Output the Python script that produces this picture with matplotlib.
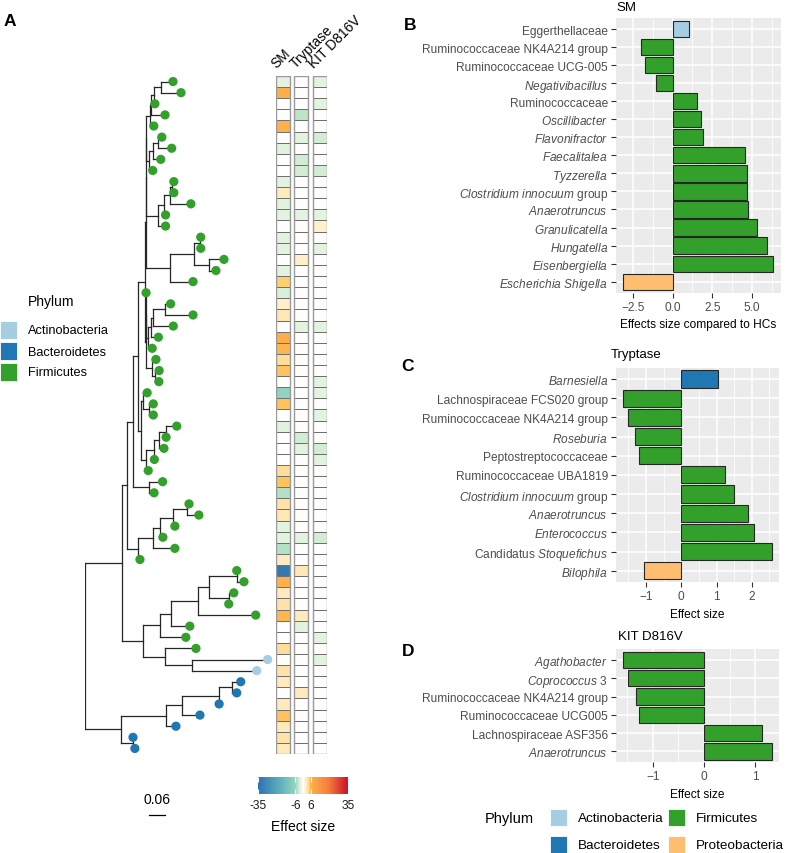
import numpy as np
import matplotlib
matplotlib.use("Agg")
import matplotlib.pyplot as plt
from matplotlib.colors import LinearSegmentedColormap, Normalize
from matplotlib.collections import LineCollection
from matplotlib.patches import Rectangle
from matplotlib.cm import ScalarMappable

plt.rcParams["font.family"] = ["Liberation Sans", "DejaVu Sans"]
plt.rcParams["mathtext.fontset"] = "custom"
plt.rcParams["mathtext.rm"] = "Liberation Sans"
plt.rcParams["mathtext.it"] = "Liberation Sans:italic"

# ---------------- data ----------------
phylum_colors = {"Actinobacteria": "#a6cee3", "Bacteroidetes": "#1f78b4",
                 "Firmicutes": "#33a02c", "Proteobacteria": "#fdbf6f"}

# tree clades: leaf label = heatmap row, number after ":" = distance from root
clade_u1 = "((((0:0.330,1:0.360):0.285,2:0.262):0.260,3:0.300):0.247,4:0.258):0.242"
clade_u2 = "(((5:0.288,6:0.325):0.274,7:0.284):0.256,8:0.254):0.241"
clade_u3 = "((((9:0.333,10:0.333):0.327,11:0.397):0.320,12:0.302):0.298,13:0.302):0.275"
clade_u4 = "(((14:0.434,15:0.434):0.431,(16:0.521,17:0.491):0.464):0.408,18:0.405):0.318"
clade_t2a = "((((20:0.321,21:0.405):0.300,22:0.331):0.254,23:0.275):0.247,24:0.252):0.237"
clade_t2b = "(25:0.266,(26:0.278,27:0.277):0.262):0.252"
clade_za = "(28:0.233,(29:0.256,30:0.256):0.240):0.218"
clade_g3 = "((((31:0.344,32:0.304):0.304,33:0.296):0.279,34:0.260):0.260,35:0.237):0.227"
clade_y = "(36:0.291,37:0.259):0.241"
clade_r = "(((((38:0.390,39:0.427):0.382,40:0.337):0.330,41:0.292):0.281,42:0.337):0.255,43:0.206):0.199"
clade_c = "(((((44:0.569,45:0.596):0.569,(46:0.558,47:0.539):0.539):0.464,48:0.640):0.423,49:0.393):0.322,50:0.378):0.281"
clade_i = "(51:0.416,(52:0.685,53:0.644):0.401):0.300"
clade_k = "(((((54:0.584,55:0.569):0.553,56:0.503):0.503,57:0.431):0.363,58:0.341):0.303,(59:0.180,60:0.187):0.180):0.1355"

node_t1 = "(((%s,%s):0.230,%s):0.229,%s):0.228" % (clade_u1, clade_u2, clade_u3, clade_u4)
node_t2 = "((19:0.229,%s):0.229,%s):0.228" % (clade_t2a, clade_t2b)
node_x = "((%s,%s):0.226,(%s,%s):0.210):0.200" % (node_t1, node_t2, clade_za, clade_g3)
node_w = "(%s,%s):0.181" % (node_x, clade_y)
node_q = "(%s,%s):0.156" % (node_w, clade_r)
node_a = "(%s,(%s,%s):0.217):0.1375" % (node_q, clade_c, clade_i)
tree_str = "(%s,%s):0" % (node_a, clade_k)

tip_phylum = "F" * 52 + "AA" + "B" * 7
phylum_code = {"F": "Firmicutes", "A": "Actinobacteria", "B": "Bacteroidetes"}

heat_cols = ["SM", "Tryptase", "KIT D816V"]
sm_heat = [-2, 7, 0, 0, 6.5, 0, -2, 0, 0, -2, 2.5, -2, -2, 0, -2, -2, 0, -2, 5, -2.5,
           2, 3, 0, 7, 6, 4, 5.5, 0, -6.5, 5.5, 0, -2, 0, 0, 0, 4, 5.5, -4.5, 3.5, 3,
           -2, -2, -4.5, 2.5, -33, 6.5, 2.5, 3.5, 6, 0, 0, 4, 0, 3.5, 2.5, 0, 2.5, 5.5, 2.5, 3.5,
           2.5]
tryp_heat = [0, 0, 0, -4, 0, -2, 0, -3, -3, 0, 0, 0, -2, 0, 0, 0, 2, 0, 0, 0,
             0, 0, -2, 0, 0, 0, 0, 0, 0, 0, 0, 0, -3, -2, 0, 0, 0, 0, 0, 0,
             0, -2, 0, 0, 3, 0, 0, 0, 2.5, -2, 0, 0, 0, 0, 0, 2.5, 0, 0, 0, 0,
             0]
kit_heat = [-2, 0, -2, 0, 0, -3, 0, 0, -3, 0, 0, 0, -2, 2, 0, -2, 0, 0, 0, 0,
            0, 0, -2, 0, 0, 0, 0, -2, -2, 0, -2, 0, 0, -3, -2, 0, 0, 0, 0, 0,
            0, -3, 0, 0, 0, 0, 0, 0, 0, 0, -2, 0, -2, 0, 0, 0, 0, 0, 0, 0,
            0]

cmap_values = [-35, -20, -6, -4, -2, 0, 2, 4, 5.5, 6, 20, 35]
cmap_colors = ["#2a72b2", "#58a8b8", "#93d4c1", "#bfe5c8", "#e3f3e0", "#ffffff",
               "#fff0cd", "#fedc98", "#fec965", "#fdb24c", "#f57d3a", "#c8102e"]
cbar_ticks = [-35, -6, 6, 35]

sm_taxa = ["Eggerthellaceae", "Ruminococcaceae NK4A214 group", "Ruminococcaceae UCG-005",
           r"$\it{Negativibacillus}$", "Ruminococcaceae", r"$\it{Oscillibacter}$",
           r"$\it{Flavonifractor}$", r"$\it{Faecalitalea}$", r"$\it{Tyzzerella}$",
           r"$\it{Clostridium\ innocuum}$ group", r"$\it{Anaerotruncus}$",
           r"$\it{Granulicatella}$", r"$\it{Hungatella}$", r"$\it{Eisenbergiella}$",
           r"$\it{Escherichia\ Shigella}$"]
sm_effect = [1.05, -2.0, -1.76, -1.07, 1.55, 1.76, 1.92, 4.54, 4.69, 4.69, 4.75, 5.29, 5.96, 6.32, -3.08]
sm_phylum = ["Actinobacteria"] + ["Firmicutes"] * 13 + ["Proteobacteria"]

tryp_taxa = [r"$\it{Barnesiella}$", "Lachnospiraceae FCS020 group", "Ruminococcaceae NK4A214 group",
             r"$\it{Roseburia}$", "Peptostreptococcaceae", "Ruminococcaceae UBA1819",
             r"$\it{Clostridium\ innocuum}$ group", r"$\it{Anaerotruncus}$", r"$\it{Enterococcus}$",
             r"Candidatus $\it{Stoquefichus}$", r"$\it{Bilophila}$"]
tryp_effect = [1.03, -1.64, -1.51, -1.31, -1.19, 1.24, 1.51, 1.88, 2.07, 2.57, -1.07]
tryp_phylum = ["Bacteroidetes"] + ["Firmicutes"] * 9 + ["Proteobacteria"]

kit_taxa = [r"$\it{Agathobacter}$", r"$\it{Coprococcus}$ 3", "Ruminococcaceae NK4A214 group",
            "Ruminococcaceae UCG005", "Lachnospiraceae ASF356", r"$\it{Anaerotruncus}$"]
kit_effect = [-1.57, -1.48, -1.32, -1.27, 1.12, 1.32]
kit_phylum = ["Firmicutes"] * 6

# ---------------- helpers ----------------
W, H = 787, 854
fig = plt.figure(figsize=(W / 100, H / 100), dpi=100)


def px_axes(left, top, width, height):
    return fig.add_axes([left / W, 1 - (top + height) / H, width / W, height / H])


def ftext(x, y, s, **kw):
    fig.text(x / W, 1 - y / H, s, **kw)


def fkey(x, y, w, h, color):
    fig.add_artist(Rectangle((x / W, 1 - (y + h) / H), w / W, h / H,
                             transform=fig.transFigure, facecolor=color,
                             edgecolor="white", linewidth=0.6))


def parse_tree(s):
    pos = 0

    def node():
        nonlocal pos
        children = []
        if s[pos] == "(":
            pos += 1
            while True:
                children.append(node())
                ch = s[pos]
                pos += 1
                if ch == ")":
                    break
        start = pos
        while s[pos] != ":":
            pos += 1
        label = s[start:pos]
        pos += 1
        start = pos
        while pos < len(s) and s[pos] not in ",)":
            pos += 1
        return {"label": label, "depth": float(s[start:pos]), "children": children}

    return node()


def layout(n):
    if not n["children"]:
        n["y"] = int(n["label"])
    else:
        for c in n["children"]:
            layout(c)
        ys = [c["y"] for c in n["children"]]
        n["y"] = (min(ys) + max(ys)) / 2


def collect(n, segs, tips):
    if not n["children"]:
        tips.append((n["depth"], n["y"], int(n["label"])))
        return
    ys = [c["y"] for c in n["children"]]
    segs.append([(n["depth"], min(ys)), (n["depth"], max(ys))])
    for c in n["children"]:
        segs.append([(n["depth"], c["y"]), (c["depth"], c["y"])])
        collect(c, segs, tips)


# ---------------- panel A: tree ----------------
n_rows = len(sm_heat)
px_per_unit = 266.7
ax_tree = px_axes(85, 77, 191, 678)
root = parse_tree(tree_str)
layout(root)
segs, tips = [], []
collect(root, segs, tips)
ax_tree.add_collection(LineCollection(segs, colors="#262626", linewidths=0.9,
                                      capstyle="projecting"))
tx = [t[0] for t in tips]
ty = [t[1] for t in tips]
tc = [phylum_colors[phylum_code[tip_phylum[t[2]]]] for t in tips]
ax_tree.scatter(tx, ty, s=44, c=tc, edgecolors="none", zorder=3, clip_on=False)
ax_tree.set_xlim(0, 191 / px_per_unit)
ax_tree.set_ylim(n_rows - 0.5, -0.5)
ax_tree.axis("off")

# scale bar
row_px = 678 / n_rows
sb_x = (149 - 85) / px_per_unit
sb_y = (816 - 77) / row_px - 0.5
ax_tree.plot([sb_x, sb_x + 0.06], [sb_y, sb_y], color="black", lw=0.9, clip_on=False)
ax_tree.text(sb_x + 0.03, (800 - 77) / row_px - 0.5, "0.06",
             ha="center", va="center", fontsize=10, clip_on=False)

# ---------------- heatmap ----------------
cmap = LinearSegmentedColormap.from_list(
    "effect", [((v + 35) / 70, c) for v, c in zip(cmap_values, cmap_colors)])
norm = Normalize(-35, 35)
ax_heat = px_axes(276, 77, 50.5, 678)
cell_w = 0.73
for j, vals in enumerate([sm_heat, tryp_heat, kit_heat]):
    ax_heat.pcolormesh(np.array([j, j + cell_w]), np.arange(n_rows + 1),
                       np.array(vals).reshape(-1, 1), cmap=cmap, norm=norm,
                       edgecolors="#707070", linewidth=0.6)
    ax_heat.add_patch(Rectangle((j, 0), cell_w, n_rows, fill=False,
                                edgecolor="#9a9a9a", linewidth=1.0))
    ax_heat.text(j + 0.15, -0.5, heat_cols[j], rotation=45, rotation_mode="anchor",
                 ha="left", va="bottom", fontsize=10, clip_on=False)
ax_heat.set_xlim(0, 2 + cell_w)
ax_heat.set_ylim(n_rows, 0)
ax_heat.axis("off")

cax = px_axes(258, 778, 90, 17)
cb = fig.colorbar(ScalarMappable(norm=norm, cmap=cmap), cax=cax, orientation="horizontal")
cb.outline.set_visible(False)
cb.set_ticks(cbar_ticks)
cb.set_ticklabels([str(t) for t in cbar_ticks])
cax.xaxis.set_ticks_position("both")
cax.tick_params(axis="x", which="both", direction="in", color="white", length=3.5,
                width=0.8, labelsize=8.6, pad=3.5, labelcolor="#1a1a1a")
cax.tick_params(axis="x", which="minor", length=0)
ftext(303, 827, "Effect size", ha="center", va="center", fontsize=10)

# left phylum legend
ftext(28, 302, "Phylum", ha="left", va="center", fontsize=10)
for k, name in enumerate(["Actinobacteria", "Bacteroidetes", "Firmicutes"]):
    fkey(0, 322 + k * 21, 17, 18, phylum_colors[name])
    ftext(28, 331.5 + k * 21, name, ha="left", va="center", fontsize=9.2)

ftext(10, 22, "A", ha="center", va="center", fontsize=12.5, fontweight="bold")


# ---------------- bar panels ----------------
def bar_panel(ax, taxa, effect, phyla, major, minor, xlabel):
    n = len(taxa)
    pos = np.arange(n)
    ax.barh(pos, effect, height=0.9, color=[phylum_colors[p] for p in phyla],
            edgecolor="#262626", linewidth=0.8, zorder=3)
    lo, hi = min(min(effect), 0), max(max(effect), 0)
    pad = 0.05 * (hi - lo)
    ax.set_xlim(lo - pad, hi + pad)
    ax.set_ylim(n - 0.4, -0.6)
    ax.set_facecolor("#ebebeb")
    ax.set_yticks(pos)
    ax.set_yticklabels(taxa)
    ax.set_xticks(major)
    ax.set_xticks(minor, minor=True)
    ax.grid(which="major", color="white", lw=1.1)
    ax.grid(which="minor", axis="x", color="white", lw=0.55)
    ax.set_axisbelow(True)
    for s in ax.spines.values():
        s.set_visible(False)
    ax.tick_params(which="major", length=3.3, width=0.8, color="#333333",
                   labelcolor="#4d4d4d", labelsize=8.6, pad=2.5)
    ax.tick_params(which="minor", length=0)
    ax.set_xlabel(xlabel, fontsize=8.6, labelpad=4)


ax_b = px_axes(616, 19.2, 164.7, 274.3)
bar_panel(ax_b, sm_taxa, sm_effect, sm_phylum, [-2.5, 0, 2.5, 5.0],
          [-1.25, 1.25, 3.75, 6.25], "Effects size compared to HCs")
ftext(616, 8, "SM", ha="left", va="center", fontsize=9.5)
ftext(410, 25, "B", ha="center", va="center", fontsize=12.5, fontweight="bold")

ax_c = px_axes(616, 368.5, 163.3, 214.7)
bar_panel(ax_c, tryp_taxa, tryp_effect, tryp_phylum, [-1, 0, 1, 2],
          [-1.5, -0.5, 0.5, 1.5, 2.5], "Effect size")
ftext(611, 355, "Tryptase", ha="left", va="center", fontsize=9.5)
ftext(408, 367, "C", ha="center", va="center", fontsize=12.5, fontweight="bold")

ax_d = px_axes(616, 650, 163.3, 113.3)
bar_panel(ax_d, kit_taxa, kit_effect, kit_phylum, [-1, 0, 1],
          [-1.5, -0.5, 0.5], "Effect size")
ftext(618, 637, "KIT D816V", ha="left", va="center", fontsize=9.5)
ftext(408, 652, "D", ha="center", va="center", fontsize=12.5, fontweight="bold")

# bottom phylum legend
ftext(485, 819, "Phylum", ha="left", va="center", fontsize=10.5)
legend_items = [("Actinobacteria", 550, 810), ("Firmicutes", 668, 810),
                ("Bacteroidetes", 550, 837), ("Proteobacteria", 668, 837)]
for name, lx, ly in legend_items:
    fkey(lx, ly, 17, 17, phylum_colors[name])
    ftext(lx + 28, ly + 9, name, ha="left", va="center", fontsize=9.7)

fig.savefig("out.png", dpi=100)
